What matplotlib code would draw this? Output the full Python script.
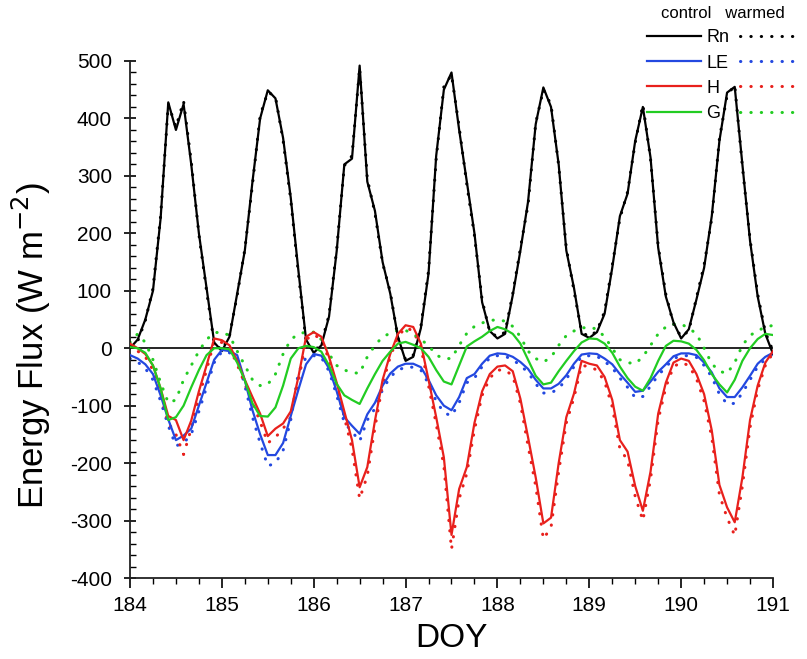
import numpy as np
import matplotlib
matplotlib.use("Agg")
import matplotlib.pyplot as plt
from matplotlib.ticker import MultipleLocator

plt.rcParams['font.family'] = ['Liberation Sans', 'DejaVu Sans']
plt.rcParams['axes.unicode_minus'] = False

# time grid: every 2 hours from DOY 184 to 191
doy = np.round(np.linspace(184, 191, 85), 4)

Rn_control = [
    0, 15, 50, 100, 226, 428, 380, 425, 320, 200, 105, 10,
    -5, 20, 95, 170, 290, 400, 449, 435, 366, 262, 135, 15,
    -8, 5, 55, 169, 320, 330, 492, 290, 239, 150, 95, 20,
    -22, -15, 35, 130, 335, 450, 480, 380, 290, 200, 80, 30,
    17, 25, 92, 170, 255, 390, 454, 420, 320, 170, 105, 25,
    18, 28, 60, 140, 230, 269, 361, 420, 332, 175, 90, 45,
    17, 33, 85, 140, 230, 361, 445, 455, 320, 187, 90, 25,
    -10]
Rn_warmed = [
    5, 12, 48, 104, 230, 425, 385, 430, 325, 198, 100, 8,
    -3, 22, 92, 172, 285, 405, 446, 438, 362, 258, 130, 12,
    -6, 8, 58, 172, 318, 335, 488, 295, 235, 148, 98, 18,
    -20, -12, 38, 135, 330, 455, 476, 385, 285, 196, 84, 28,
    20, 28, 95, 174, 250, 392, 450, 424, 318, 174, 100, 28,
    20, 30, 64, 144, 226, 272, 358, 424, 330, 178, 94, 42,
    20, 30, 88, 145, 226, 365, 440, 458, 316, 190, 94, 28,
    -5]
LE_control = [
    -12, -18, -28, -45, -82, -124, -160, -152, -140, -100, -60, -20,
    -3, -5, -12, -56, -108, -150, -186, -186, -165, -118, -72, -28,
    -10, -13, -35, -75, -120, -135, -149, -115, -95, -65, -44, -32,
    -27, -27, -33, -55, -82, -100, -108, -85, -52, -45, -27, -13,
    -9, -10, -15, -24, -36, -55, -70, -70, -62, -47, -27, -11,
    -9, -10, -18, -28, -45, -60, -76, -74, -58, -41, -28, -14,
    -9, -9, -12, -25, -42, -70, -85, -85, -68, -48, -27, -15,
    -8]
LE_warmed = [
    -18, -24, -35, -55, -92, -135, -170, -165, -150, -110, -68, -25,
    -6, -8, -16, -65, -120, -165, -205, -200, -178, -125, -42, -16,
    -13, -16, -40, -82, -130, -145, -162, -125, -105, -72, -50, -38,
    -33, -33, -38, -62, -92, -112, -118, -95, -60, -52, -32, -17,
    -13, -14, -20, -30, -42, -62, -78, -78, -70, -54, -32, -15,
    -13, -14, -23, -34, -52, -68, -86, -84, -66, -47, -33, -18,
    -13, -13, -16, -30, -50, -80, -97, -96, -78, -55, -32, -19,
    -10]
H_control = [
    8, 0, -10, -30, -70, -118, -125, -160, -126, -75, -30, 17,
    14, 5, -22, -55, -85, -114, -153, -140, -131, -110, -50, 20,
    28, 20, -15, -60, -110, -160, -242, -207, -126, -55, -10, 25,
    40, 37, 8, -55, -120, -190, -325, -245, -207, -130, -75, -45,
    -32, -30, -40, -88, -155, -225, -305, -295, -200, -120, -79, -22,
    -27, -30, -50, -90, -160, -180, -240, -283, -215, -114, -60, -25,
    -18, -22, -45, -80, -143, -238, -277, -303, -225, -125, -65, -25,
    -5]
H_warmed = [
    5, -5, -15, -38, -80, -130, -150, -185, -140, -85, -38, 12,
    10, 0, -28, -62, -95, -128, -165, -155, -140, -120, -58, 15,
    24, 15, -20, -68, -120, -175, -262, -222, -138, -62, -15, 20,
    36, 30, 2, -65, -132, -205, -350, -262, -218, -142, -82, -52,
    -38, -38, -48, -96, -170, -240, -332, -312, -215, -130, -86, -30,
    -32, -38, -58, -102, -175, -195, -258, -300, -228, -125, -68, -32,
    -25, -30, -53, -92, -155, -255, -295, -326, -240, -138, -72, -30,
    -8]
G_control = [
    2, 0, -8, -30, -70, -125, -120, -100, -68, -38, -12, 0,
    0, -2, -25, -56, -96, -118, -119, -103, -65, -18, 0, 4,
    2, -6, -30, -62, -82, -90, -97, -70, -45, -22, -6, 8,
    11, 6, 0, -15, -38, -58, -63, -30, 3, 12, 20, 30,
    37, 33, 25, 8, -20, -48, -63, -60, -40, -22, -5, 10,
    17, 16, 8, -8, -32, -52, -67, -74, -52, -22, 4, 13,
    12, 8, -3, -21, -45, -63, -77, -55, -22, 0, 16, 25,
    23]
G_warmed = [
    10, 25, 10, -20, -60, -95, -90, -55, -30, -5, 15, 27,
    28, 22, -5, -30, -55, -65, -63, -45, -10, 15, 25, 28,
    28, 15, -10, -30, -38, -42, -44, -15, 5, 20, 26, 31,
    31, 25, 15, 5, -12, -18, -18, 5, 26, 38, 44, 48,
    50, 47, 38, 20, -5, -18, -24, -16, 5, 22, 30, 35,
    37, 33, 20, 0, -20, -25, -27, -15, 5, 25, 37, 42,
    42, 35, 25, 0, -27, -40, -44, -25, 5, 22, 31, 36,
    40]

series_names = ['Rn', 'LE', 'H', 'G']
colors = ['#000000', '#2348e0', '#e8201c', '#22cc22']
control = [Rn_control, LE_control, H_control, G_control]
warmed = [Rn_warmed, LE_warmed, H_warmed, G_warmed]

fig = plt.figure(figsize=(8.07, 6.59), dpi=100)
ax = fig.add_axes([130 / 807, 1 - 578 / 659, (773 - 130) / 807, (578 - 61) / 659])

ax.axhline(0, color='black', lw=1.2, zorder=1)

dot = (0, (0.1, 3.3))
c_handles, w_handles = [], []
for name, col, c, w in zip(series_names, colors, control, warmed):
    hc, = ax.plot(doy, c, color=col, lw=1.6, solid_joinstyle='round', zorder=3)
    hw, = ax.plot(doy, w, color=col, lw=2.2, linestyle=dot, dash_capstyle='round', zorder=2)
    c_handles.append(hc)
    w_handles.append(hw)

ax.set_xlim(184, 191)
ax.set_ylim(-400, 500)
ax.xaxis.set_major_locator(MultipleLocator(1))
ax.xaxis.set_minor_locator(MultipleLocator(0.25))
ax.yaxis.set_major_locator(MultipleLocator(100))
ax.yaxis.set_minor_locator(MultipleLocator(20))
for s in ['top', 'right']:
    ax.spines[s].set_visible(False)
for s in ['left', 'bottom']:
    ax.spines[s].set_linewidth(1.3)
    ax.spines[s].set_color('#222222')

ax.tick_params(axis='y', which='major', direction='inout', length=8, width=1.2, labelsize=15, pad=9)
ax.tick_params(axis='y', which='minor', direction='in', length=4, width=1.0)
ax.tick_params(axis='x', which='major', direction='out', length=7, width=1.2, labelsize=15, pad=6)
ax.tick_params(axis='x', which='minor', direction='out', length=4, width=1.0)

ax.set_xlabel('DOY', fontsize=24, labelpad=6)
ax.set_ylabel('Energy Flux (W m$^{-2}$)', fontsize=25)
ax.yaxis.set_label_coords(-0.12, 0.45)

leg = ax.legend(c_handles + w_handles, series_names + [''] * 4, ncol=2,
                title='control   warmed', frameon=False, loc='upper right',
                bbox_to_anchor=(806 / 807, 1.0), bbox_transform=fig.transFigure,
                handlelength=3.0, columnspacing=0.6, handletextpad=0.3,
                labelspacing=0.45, fontsize=13, title_fontsize=12,
                borderaxespad=0.15, borderpad=0.2)
leg.set_zorder(1)

fig.savefig('out.png', dpi=100)
